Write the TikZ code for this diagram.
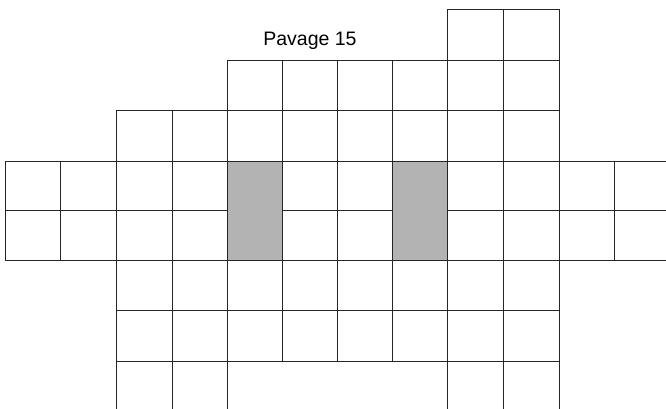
\documentclass[tikz,border=0pt]{standalone}
\usepackage{fontspec}
\setmainfont{Liberation Sans}
\definecolor{domino}{RGB}{179,179,179}
\def\xs{{5.5,60.5,116.5,172,227,282,337,392,447,503,559,614,669}}
\def\ys{{9,60,110,161,210,260,310.5,361,411}}
\newcommand\tile[5][]{%
  \pgfmathsetmacro\xa{\xs[#2]}\pgfmathsetmacro\ya{\ys[#3]}%
  \pgfmathsetmacro\xb{\xs[#4]}\pgfmathsetmacro\yb{\ys[#5]}%
  \draw[tileline,#1] (\xa,\ya) rectangle (\xb,\yb);}
\begin{document}
\begin{tikzpicture}[x=1pt,y=-1pt,
  tileline/.style={draw=black!85,line width=1pt},
  graytile/.style={fill=domino}]
\useasboundingbox (0,0) rectangle (666,408);
\clip (0,0) rectangle (666,408);
% row 0
\foreach \i in {8,9} {\tile{\i}{0}{\the\numexpr\i+1\relax}{1}}
% row 1
\foreach \i in {4,...,9} {\tile{\i}{1}{\the\numexpr\i+1\relax}{2}}
% row 2
\foreach \i in {2,...,9} {\tile{\i}{2}{\the\numexpr\i+1\relax}{3}}
% rows 3,4
\foreach \j in {3,4} {
  \foreach \i in {0,1,2,3,5,6,8,9,10,11} {\tile{\i}{\j}{\the\numexpr\i+1\relax}{\the\numexpr\j+1\relax}}
}
\tile[graytile]{4}{3}{5}{5}
\tile[graytile]{7}{3}{8}{5}
% rows 5,6
\foreach \j in {5,6} {
  \foreach \i in {2,...,9} {\tile{\i}{\j}{\the\numexpr\i+1\relax}{\the\numexpr\j+1\relax}}
}
% row 7
\foreach \i in {2,3,8,9} {\tile{\i}{7}{\the\numexpr\i+1\relax}{8}}
\tile{4}{7}{8}{8}
\node[anchor=base,inner sep=0pt,font=\fontsize{19.5}{23}\selectfont] (title) at (310,45) {Pavage 15};
\end{tikzpicture}
\end{document}
